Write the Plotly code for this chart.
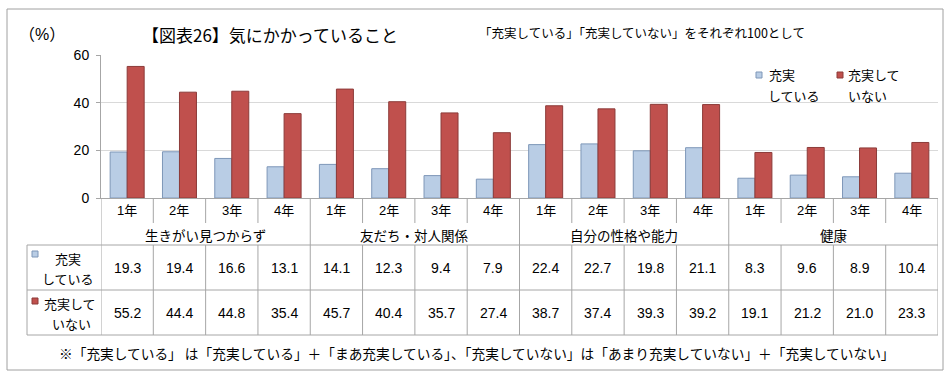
import plotly.graph_objects as go

# ---------------- data ----------------
groups = ["生きがい見つからず", "友だち・対人関係", "自分の性格や能力", "健康"]
years = ["1年", "2年", "3年", "4年"]
series_names = ["充実している", "充実していない"]
jujitsu = [19.3, 19.4, 16.6, 13.1, 14.1, 12.3, 9.4, 7.9, 22.4, 22.7, 19.8, 21.1, 8.3, 9.6, 8.9, 10.4]
fujujitsu = [55.2, 44.4, 44.8, 35.4, 45.7, 40.4, 35.7, 27.4, 38.7, 37.4, 39.3, 39.2, 19.1, 21.2, 21.0, 23.3]
y_ticks = [0, 20, 40, 60]
title_text = "【図表26】気にかかっていること"
subtitle_text = "「充実している」「充実していない」をそれぞれ100として"
unit_text = "（%）"
note_text = "※「充実している」 は「充実している」＋「まあ充実している」、「充実していない」は「あまり充実していない」＋「充実していない」"
legend_lines = [["充実", "している"], ["充実して", "いない"]]

# ---------------- style ----------------
W, H = 950, 378
FONT_NUM = "Liberation Sans Narrow, Liberation Sans, Arial, Noto Sans CJK JP, sans-serif"
FONT_JP = "Noto Sans CJK JP, sans-serif"
BLUE, BLUE_LINE = "#B9CDE5", "#7E97B8"
RED, RED_LINE = "#C0504D", "#8C3B39"
GRID = "#D9D9D9"
LINE = "#A6A6A6"


def px_x(x):
    return x / W


def px_y(y):
    return 1 - y / H


n = len(jujitsu)
xs = list(range(n))
cats = [years[i % len(years)] for i in xs]

fig = go.Figure()
fig.add_trace(go.Bar(x=xs, y=jujitsu, name=series_names[0], marker=dict(color=BLUE, line=dict(color=BLUE_LINE, width=1))))
fig.add_trace(go.Bar(x=xs, y=fujujitsu, name=series_names[1], marker=dict(color=RED, line=dict(color=RED_LINE, width=1))))

plot_left, plot_right, plot_top, plot_bottom = 101, 938, 55, 198

fig.update_layout(
    width=W, height=H,
    margin=dict(l=0, r=0, t=0, b=0, autoexpand=False),
    paper_bgcolor="white", plot_bgcolor="white",
    barmode="group", bargap=0.35, bargroupgap=0,
    showlegend=False,
    font=dict(family=FONT_NUM, size=13, color="black"),
    xaxis=dict(domain=[px_x(plot_left), px_x(plot_right)], range=[-0.5, n - 0.5],
               showgrid=False, showticklabels=False, showline=True, linecolor=LINE,
               linewidth=1, zeroline=False, fixedrange=True),
    yaxis=dict(domain=[px_y(plot_bottom), px_y(plot_top)], range=[0, 60],
               tickvals=y_ticks, showgrid=True, gridcolor=GRID, gridwidth=1,
               showline=True, linecolor=LINE, linewidth=1, zeroline=False,
               ticks="outside", ticklen=4, tickcolor=LINE, ticklabelstandoff=4,
               tickfont=dict(family=FONT_NUM, size=14), fixedrange=True),
)

ann = []
shapes = []


def text_at(x, y, text, size, family=FONT_JP, xanchor="center", xref="paper"):
    ann.append(dict(x=x, y=px_y(y), xref=xref, yref="paper", text=text, showarrow=False,
                    font=dict(family=family, size=size), xanchor=xanchor, yanchor="middle"))


# year labels and group labels
for i in xs:
    text_at(i, 210, cats[i], 13, FONT_NUM, xref="x")
for g, name in enumerate(groups):
    idx = [i for i in xs if i // len(years) == g]
    text_at(sum(idx) / len(idx), 235, name, 13.5, xref="x")

# table values
for i in xs:
    text_at(i, 268, f"{jujitsu[i]:.1f}", 14, FONT_NUM, xref="x")
    text_at(i, 313, f"{fujujitsu[i]:.1f}", 14, FONT_NUM, xref="x")

# table row headers
text_at(px_x(67.5), 258, legend_lines[0][0], 13)
text_at(px_x(68), 278, legend_lines[0][1], 13)
text_at(px_x(69.5), 303, legend_lines[1][0], 13)
text_at(px_x(71), 323, legend_lines[1][1], 13)
shapes.append(dict(type="rect", xref="paper", yref="paper", x0=px_x(32), x1=px_x(38), y0=px_y(251), y1=px_y(257),
                   fillcolor=BLUE, line=dict(color=BLUE_LINE, width=1)))
shapes.append(dict(type="rect", xref="paper", yref="paper", x0=px_x(32), x1=px_x(38), y0=px_y(298), y1=px_y(304),
                   fillcolor=RED, line=dict(color=RED_LINE, width=1)))

# legend (manual)
shapes.append(dict(type="rect", xref="paper", yref="paper", x0=px_x(756), x1=px_x(762), y0=px_y(72), y1=px_y(78),
                   fillcolor=BLUE, line=dict(color=BLUE_LINE, width=1)))
shapes.append(dict(type="rect", xref="paper", yref="paper", x0=px_x(837), x1=px_x(843), y0=px_y(72), y1=px_y(78),
                   fillcolor=RED, line=dict(color=RED_LINE, width=1)))
text_at(px_x(767), 75, legend_lines[0][0], 13, xanchor="left")
text_at(px_x(766), 95, legend_lines[0][1], 13, xanchor="left")
text_at(px_x(846), 75, legend_lines[1][0], 13, xanchor="left")
text_at(px_x(846), 95, legend_lines[1][1], 13, xanchor="left")

# titles
text_at(px_x(270), 35, title_text, 17)
text_at(px_x(477), 32, subtitle_text, 12.5, xanchor="left")
text_at(px_x(17), 34, unit_text, 16, FONT_NUM, xanchor="left")
text_at(px_x(477), 353, note_text, 13.7)

# table grid: vertical lines
for k in range(n + 1):
    xv = k - 0.5
    if k % len(years) == 0:
        shapes.append(dict(type="line", xref="x", yref="paper", x0=xv, x1=xv, y0=px_y(198), y1=px_y(335),
                           line=dict(color=LINE, width=1)))
    else:
        shapes.append(dict(type="line", xref="x", yref="paper", x0=xv, x1=xv, y0=px_y(198), y1=px_y(223),
                           line=dict(color=LINE, width=1)))
        shapes.append(dict(type="line", xref="x", yref="paper", x0=xv, x1=xv, y0=px_y(245), y1=px_y(335),
                           line=dict(color=LINE, width=1)))
# left column border
shapes.append(dict(type="line", xref="paper", yref="paper", x0=px_x(27), x1=px_x(27), y0=px_y(245), y1=px_y(335),
                   line=dict(color=LINE, width=1)))
# horizontal lines
for yy in (245, 290, 335):
    shapes.append(dict(type="line", xref="paper", yref="paper", x0=px_x(27), x1=px_x(plot_right), y0=px_y(yy), y1=px_y(yy),
                       line=dict(color=LINE, width=1)))
# outer frame
shapes.append(dict(type="rect", xref="paper", yref="paper", x0=px_x(7), x1=px_x(943), y0=px_y(9), y1=px_y(370),
                   line=dict(color="#A0A0A0", width=1), fillcolor="rgba(0,0,0,0)"))

fig.update_layout(annotations=ann, shapes=shapes)
fig.write_html("out.html", config={"displayModeBar": False},
               post_script="document.body.style.margin='0px';")
